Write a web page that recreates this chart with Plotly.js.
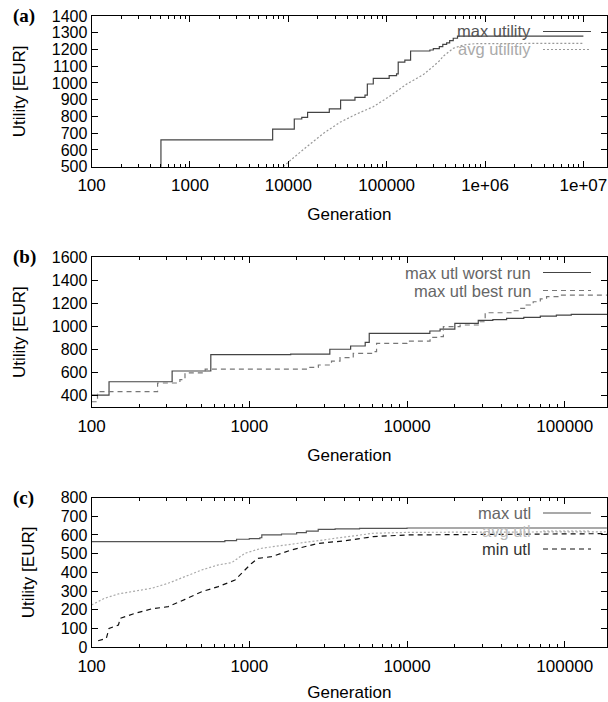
<!DOCTYPE html>
<html>
<head>
<meta charset="utf-8">
<script src="https://cdn.plot.ly/plotly-3.0.1.min.js"></script>
<style>html,body{margin:0;padding:0;background:#fff}#chart{width:608px;height:702px}</style>
</head>
<body>
<div id="chart"></div>
<script>
// ---------- data ----------
// panel (a)
const aMaxX = [100, 507, 6930, 11500, 13700, 15700, 26100, 34000, 47600, 60200, 63600, 73100, 106000, 126000, 131000, 153000, 175000, 275000, 298000, 343000, 372000, 407000, 437000, 475000, 525000, 10000000];
const aMaxY = [480, 660, 725, 785, 795, 825, 845, 898, 914, 928, 994, 1028, 1044, 1054, 1125, 1137, 1191, 1197, 1205, 1217, 1230, 1240, 1253, 1267, 1280, 1280];
const aAvgX = [8900, 10400, 15400, 22700, 33500, 49500, 73100, 108000, 160000, 236000, 298000, 348000, 376000, 475000, 603000, 800000, 10000000];
const aAvgY = [500, 536, 619, 699, 765, 815, 858, 922, 994, 1050, 1100, 1135, 1160, 1207, 1227, 1235, 1237];
const aNames = ["max utility", "avg utilitiy"];
const aTickVals = [100, 1000, 10000, 100000, 1000000, 10000000];
const aTickText = ["100", "1000", "10000", "100000", "1e+06", "1e+07"];

// panel (b)
const bWorstX = [100, 129, 324, 570, 1830, 3240, 4390, 5430, 5760, 13960, 16200, 20100, 28300, 35000, 42800, 55000, 70000, 88500, 110000, 185000];
const bWorstY = [406, 521, 614, 755, 760, 802, 830, 862, 940, 960, 977, 1026, 1052, 1058, 1070, 1078, 1088, 1098, 1104, 1107];
const bBestX = [100, 109, 262, 363, 391, 525, 1850, 2300, 2740, 3320, 3760, 4560, 6100, 6410, 10000, 14000, 16200, 17000, 21700, 29000, 31300, 42800, 47000, 52000, 57000, 63100, 70000, 76700, 93300, 185000];
const bBestY = [348, 435, 510, 540, 597, 631, 631, 645, 666, 700, 729, 767, 781, 853, 873, 905, 911, 997, 1012, 1040, 1118, 1118, 1135, 1156, 1185, 1213, 1238, 1257, 1271, 1271];
const bNames = ["max utl worst run", "max utl best run"];
const bcTickVals = [100, 1000, 10000, 100000];
const bcTickText = ["100", "1000", "10000", "100000"];

// panel (c)
const cMaxX = [100, 571, 700, 830, 1000, 1167, 1200, 1600, 1995, 2300, 2735, 3500, 5000, 10000, 185000];
const cMaxY = [564, 564, 570, 577, 580, 585, 600, 605, 612, 620, 630, 632, 635, 637, 637];
const cAvgX = [100, 121, 148, 188, 240, 306, 391, 499, 636, 773, 938, 1197, 1681, 2735, 4040, 6100, 10400, 185000];
const cAvgY = [226, 262, 285, 301, 315, 342, 377, 413, 440, 452, 502, 529, 546, 569, 587, 609, 614, 617];
const cMinX = [110, 124, 129, 148, 152, 188, 240, 306, 391, 499, 636, 811, 938, 1033, 1138, 1383, 1853, 2735, 4040, 6100, 9930, 26300, 185000];
const cMinY = [35, 48, 101, 119, 155, 181, 205, 217, 256, 297, 324, 359, 413, 448, 475, 484, 520, 555, 569, 591, 600, 603, 607];
const cNames = ["max utl", "avg utl", "min utl"];

const panelLabels = ["(a)", "(b)", "(c)"];
const yTitle = "Utility [EUR]";
const xTitle = "Generation";

// ---------- styles ----------
const FONT = "Liberation Sans, Arial, Helvetica, sans-serif";
const FS = 17;
const FSY = 16;
const FSK = 16.5;

function minorTicks(lo, hi) {
  const out = [];
  for (let d = lo; d < hi; d *= 10) for (let k = 2; k <= 9; k++) out.push(d * k);
  return out;
}

const traces = [
  {x: aMaxX, y: aMaxY, xaxis: "x", yaxis: "y", mode: "lines", line: {shape: "hv", color: "#444", width: 1.2}, name: aNames[0]},
  {x: aAvgX, y: aAvgY, xaxis: "x", yaxis: "y", mode: "lines", line: {color: "#999", width: 1.2, dash: "2px,2px"}, name: aNames[1]},
  {x: bWorstX, y: bWorstY, xaxis: "x2", yaxis: "y2", mode: "lines", line: {shape: "hv", color: "#444", width: 1.2}, name: bNames[0]},
  {x: bBestX, y: bBestY, xaxis: "x2", yaxis: "y2", mode: "lines", line: {shape: "hv", color: "#777", width: 1.2, dash: "5px,4px"}, name: bNames[1]},
  {x: cMaxX, y: cMaxY, xaxis: "x3", yaxis: "y3", mode: "lines", line: {shape: "hv", color: "#555", width: 1.2}, name: cNames[0]},
  {x: cAvgX, y: cAvgY, xaxis: "x3", yaxis: "y3", mode: "lines", line: {color: "#aaa", width: 1.2, dash: "2px,2px"}, name: cNames[1]},
  {x: cMinX, y: cMinY, xaxis: "x3", yaxis: "y3", mode: "lines", line: {color: "#111", width: 1.2, dash: "5px,4px"}, name: cNames[2]}
];

const W = 608, H = 702;
const xDom = [91.6 / W, 607 / W];
function yDom(top, bottom) { return [(H - bottom) / H, (H - top) / H]; }

function xAxis(anchor, range, tv, tt, minorLo, minorHi) {
  return {
    type: "log", range: range, domain: xDom, anchor: anchor,
    showline: true, linecolor: "#000", linewidth: 1, mirror: "allticks",
    ticks: "inside", ticklen: 6, tickcolor: "#000", tickwidth: 1,
    tickmode: "array", tickvals: tv, ticktext: tt, ticklabelstandoff: 3,
    minor: {ticks: "inside", ticklen: 3, tickcolor: "#000", tickmode: "array", tickvals: minorTicks(minorLo, minorHi), showgrid: false},
    showgrid: false, zeroline: false,
    tickfont: {family: FONT, size: FS, color: "#000"},
    title: {text: xTitle, font: {family: FONT, size: FS, color: "#000"}, standoff: 14}
  };
}
function yAxis(anchor, dom, range, dtick) {
  return {
    domain: dom, anchor: anchor, range: range, dtick: dtick, tick0: 0,
    showline: true, linecolor: "#000", linewidth: 1, mirror: "allticks",
    ticks: "inside", ticklen: 6, tickcolor: "#000", tickwidth: 1,
    showgrid: false, zeroline: false,
    tickfont: {family: FONT, size: FSY, color: "#000"},
    title: {text: yTitle, font: {family: FONT, size: FS, color: "#000"}, standoff: 21}
  };
}

const layout = {
  width: W, height: H,
  margin: {l: 0, r: 0, t: 0, b: 0},
  paper_bgcolor: "#fff", plot_bgcolor: "#fff",
  showlegend: false,
  xaxis: xAxis("y", [2, 7.24], aTickVals, aTickText, 100, 1e7),
  yaxis: yAxis("x", yDom(16, 166.7), [500, 1400], 100),
  xaxis2: xAxis("y2", [2, 5.268], bcTickVals, bcTickText, 100, 1e5),
  yaxis2: yAxis("x2", yDom(257, 407.3), [300, 1600], 200),
  xaxis3: xAxis("y3", [2, 5.268], bcTickVals, bcTickText, 100, 1e5),
  yaxis3: yAxis("x3", yDom(497.5, 647.3), [0, 800], 100),
  annotations: [],
  shapes: []
};

// panel labels
["", "2", "3"].forEach((s, i) => {
  layout.annotations.push({
    text: "<b>" + panelLabels[i] + "</b>", xref: "paper", x: 11 / W, xanchor: "left",
    yref: "y" + s + " domain", y: 1, yanchor: "middle", yshift: 0, showarrow: false,
    font: {family: "Liberation Serif, Times New Roman, serif", size: 19, color: "#000"}
  });
});

// gnuplot-style keys: text right-aligned, sample line on the right
function key(s, names, traceIdx, textColors) {
  names.forEach((n, i) => {
    const dy = -15.5 - 18 * i;
    layout.annotations.push({
      text: n, xref: "x" + s + " domain", x: 1, xanchor: "right", xshift: -74,
      yref: "y" + s + " domain", y: 1, yanchor: "middle", yshift: dy, showarrow: false,
      font: {family: FONT, size: FSK, color: textColors[i]}
    });
    const tr = traces[traceIdx[i]];
    layout.shapes.push({
      type: "line", xref: "x" + s + " domain", yref: "y" + s + " domain",
      xsizemode: "pixel", ysizemode: "pixel", xanchor: 1, yanchor: 1,
      x0: -64, x1: -16, y0: dy, y1: dy,
      line: {color: tr.line.color, width: tr.line.width, dash: tr.line.dash || "solid"}
    });
  });
}
key("", aNames, [0, 1], ["#555", "#aaa"]);
key("2", bNames, [2, 3], ["#666", "#666"]);
key("3", cNames, [4, 5, 6], ["#666", "#bbb", "#333"]);

Plotly.newPlot("chart", traces, layout, {staticPlot: true, displayModeBar: false});
</script>
</body>
</html>
